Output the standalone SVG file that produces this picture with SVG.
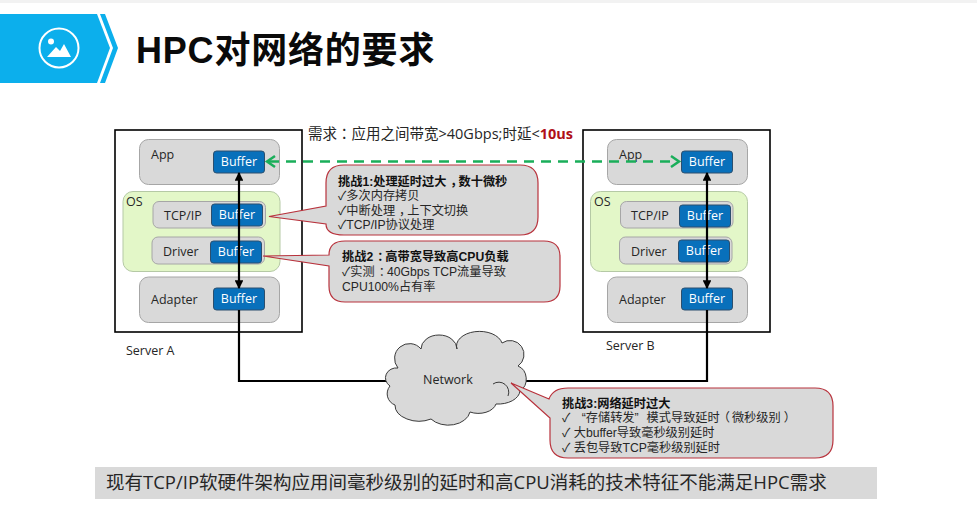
<svg xmlns="http://www.w3.org/2000/svg" width="977" height="509" viewBox="0 0 977 509">
<style>
text{font-family:"Open Sans","Noto Sans CJK SC",sans-serif;fill:#262626}
.l{font-size:12.5px}
.b{fill:#fff;font-size:12.5px;text-anchor:middle}
.bb{fill:#0870bb;stroke:#2c4f6e;stroke-width:1}
.g{fill:#d9d9d9;stroke:#a6a6a6;stroke-width:1}
.os{fill:#e3f7c8;stroke:#b5c9a5;stroke-width:1}
.srv{fill:#fff;stroke:#000;stroke-width:1.6}
.co{fill:#d9d9d9;stroke:#b8323c;stroke-width:1.2}
.t,.h{font-family:"Liberation Sans","Noto Sans CJK SC",sans-serif;font-size:12.2px}
.h{font-weight:700;fill:#111}
.p{font-family:"Noto Sans CJK TC",sans-serif}
.bk{fill:none;stroke:#000;stroke-width:2.200}
</style>
<defs>
<marker id="k" viewBox="0 0 8 8" refX="7" refY="4" markerWidth="4" markerHeight="4" orient="auto-start-reverse" markerUnits="strokeWidth"><path d="M0 0L8 4L0 8Z" fill="#000"/></marker>
</defs>
<rect width="977" height="509" fill="#fff"/>
<rect width="977" height="3" fill="#f2f2f2"/>
<g id="header">
<path d="M0 14H97L110 48L97 83H0Z" fill="#0cafec"/>
<path d="M100 14H105L118 48L105 83H100L113 48Z" fill="#0cafec"/>
<circle cx="59" cy="48" r="19.5" fill="none" stroke="#fff" stroke-width="2"/>
<circle cx="51" cy="41.500" r="3" fill="#fff"/>
<path d="M47 57L56 47L60 51L64 44L71 57Z" fill="#fff"/>
<text x="136" y="63" style="font-family:'Liberation Sans','Noto Sans CJK SC',sans-serif;font-size:36px;font-weight:700;letter-spacing:.8px;fill:#0a0a0a">HPC对网络的要求</text>
</g>
<text x="308" y="139" style="font-size:14.500px" id="req">需求<tspan class="p">：</tspan>应用之间带宽&gt;40Gbps;时延&lt;<tspan style="font-weight:700;fill:#b01018">10us</tspan></text>
<g id="server-a">
<rect class="srv" x="115" y="130" width="187" height="202"/>
<rect class="g" x="139.500" y="139.500" width="140" height="45" rx="9"/>
<text class="l" x="151" y="159">App</text>
<rect class="os" x="123" y="191.500" width="157" height="80" rx="10"/>
<text class="l" x="126" y="206">OS</text>
<rect class="g" x="153" y="201.500" width="112.500" height="26.500" rx="6"/>
<text class="l" x="164" y="220">TCP/IP</text>
<rect class="g" x="152" y="237" width="112.500" height="27" rx="6"/>
<text class="l" x="163" y="256">Driver</text>
<rect class="g" x="139.500" y="277" width="140" height="45.500" rx="9"/>
<text class="l" x="151" y="304">Adapter</text>
<rect class="bb" x="213.500" y="151" width="51" height="22" rx="3"/><text class="b" x="239" y="166">Buffer</text>
<rect class="bb" x="211.500" y="204" width="51" height="22" rx="3"/><text class="b" x="237" y="219">Buffer</text>
<rect class="bb" x="210.500" y="241" width="51" height="22" rx="3"/><text class="b" x="236" y="256">Buffer</text>
<rect class="bb" x="213.500" y="288" width="51" height="22" rx="3"/><text class="b" x="239" y="303">Buffer</text>
<text class="l" x="126" y="355">Server A</text>
</g>
<g id="server-b">
<rect class="srv" x="583" y="130" width="187" height="202"/>
<rect class="g" x="607.500" y="139.500" width="140" height="45" rx="9"/>
<text class="l" x="619" y="159">App</text>
<rect class="os" x="590.500" y="191.500" width="157" height="80" rx="10"/>
<text class="l" x="594" y="206">OS</text>
<rect class="g" x="620.500" y="201.500" width="112.500" height="26.500" rx="6"/>
<text class="l" x="631" y="220">TCP/IP</text>
<rect class="g" x="619.500" y="237" width="112.500" height="27" rx="6"/>
<text class="l" x="631" y="256">Driver</text>
<rect class="g" x="607.500" y="277" width="140" height="45.500" rx="9"/>
<text class="l" x="619" y="304">Adapter</text>
<rect class="bb" x="681.500" y="151" width="51" height="22" rx="3"/><text class="b" x="707" y="166">Buffer</text>
<rect class="bb" x="679.500" y="205" width="51" height="22" rx="3"/><text class="b" x="705" y="220">Buffer</text>
<rect class="bb" x="678.500" y="240" width="51" height="22" rx="3"/><text class="b" x="704" y="255">Buffer</text>
<rect class="bb" x="681.500" y="288" width="51" height="22" rx="3"/><text class="b" x="707" y="303">Buffer</text>
<text class="l" x="606" y="350">Server B</text>
</g>
<g id="connectors">
<path class="bk" d="M239 173V288" marker-start="url(#k)" marker-end="url(#k)"/>
<path class="bk" d="M707 173V288" marker-start="url(#k)" marker-end="url(#k)"/>
<path class="bk" d="M239 310V381H392"/>
<path class="bk" d="M707 310V381H515"/>
<path d="M269 161.500H677" fill="none" stroke="#1aae5a" stroke-width="2.500" stroke-dasharray="10 7"/>
<path d="M275 156L267 161.500L275 167M671 156L679 161.500L671 167" fill="none" stroke="#1aae5a" stroke-width="2.500"/>
</g>
<g id="challenge-1">
<path class="co" d="M344 165H520Q538 165 538 183V217Q538 235 520 235H344Q326 235 326 224L269 216.500L326 206V183Q326 165 344 165Z"/>
<text class="h" x="338" y="186" dx="0 0 0 0 0 0 0 0 0 0 4 -4">挑战1:处理延时过大，数十微秒</text>
<text class="t" x="338" y="200">✓多次内存拷贝</text>
<text class="t" x="338" y="214.500" dx="0 0 0 0 0 4 -4">✓中断处理，上下文切换</text>
<text class="t" x="338" y="229">✓TCP/IP协议处理</text>
</g>
<g id="challenge-2">
<path class="co" d="M345 241H544Q560 241 560 257V286Q560 302 544 302H345Q329 302 329 286V266L263 256L329 255Q329 241 345 241Z"/>
<text class="h" x="342" y="261" dx="0 0 0 4 -4">挑战2：高带宽导致高CPU负载</text>
<text class="t" x="342" y="276" dx="0 0 0 4 -4">✓实测：40Gbps TCP流量导致</text>
<text class="t" x="342" y="291">CPU100%占有率</text>
</g>
<g id="network">
<path d="M398 368A14 14 0 0 1 421 349A18 14 0 0 1 457 349A22 14 0 0 1 502 343A14 14 0 0 1 518 366A13 14 0 0 1 520 391A22 14 0 0 1 496 404A18 12 0 0 1 470 412A22 16 0 0 1 431 419A24 16 0 0 1 395 405A12 12 0 0 1 390 386A11 10 0 0 1 398 368Z" fill="#d9d9d9" stroke="#3a3a3a" stroke-width="1"/>
<path d="M493 384A10 10 0 0 1 508 396" fill="none" stroke="#3a3a3a" stroke-width="1"/>
<text class="l" x="423" y="384">Network</text>
</g>
<g id="challenge-3">
<path class="co" d="M568 388H815Q833 388 833 406V440Q833 458 815 458H568Q550 458 550 440V418L511 383L549 399Q553 388 568 388Z"/>
<text class="h" x="562" y="408">挑战3:网络延时过大</text>
<text class="t" x="562" y="422" dx="0 0 8 0 0 0 0 0 8 0 0 0 0 0 -2 2 0 0 0 3">✓ “存储转发”模式导致延时（微秒级别）</text>
<text class="t" x="562" y="437">✓ 大buffer导致毫秒级别延时</text>
<text class="t" x="562" y="452">✓ 丢包导致TCP毫秒级别延时</text>
</g>
<g id="summary">
<rect x="95" y="467" width="782" height="32" fill="#d9d9d9"/>
<text x="106" y="489" style="font-size:18.500px">现有TCP/IP软硬件架构应用间毫秒级别的延时和高CPU消耗的技术特征不能满足HPC需求</text>
</g>
</svg>
